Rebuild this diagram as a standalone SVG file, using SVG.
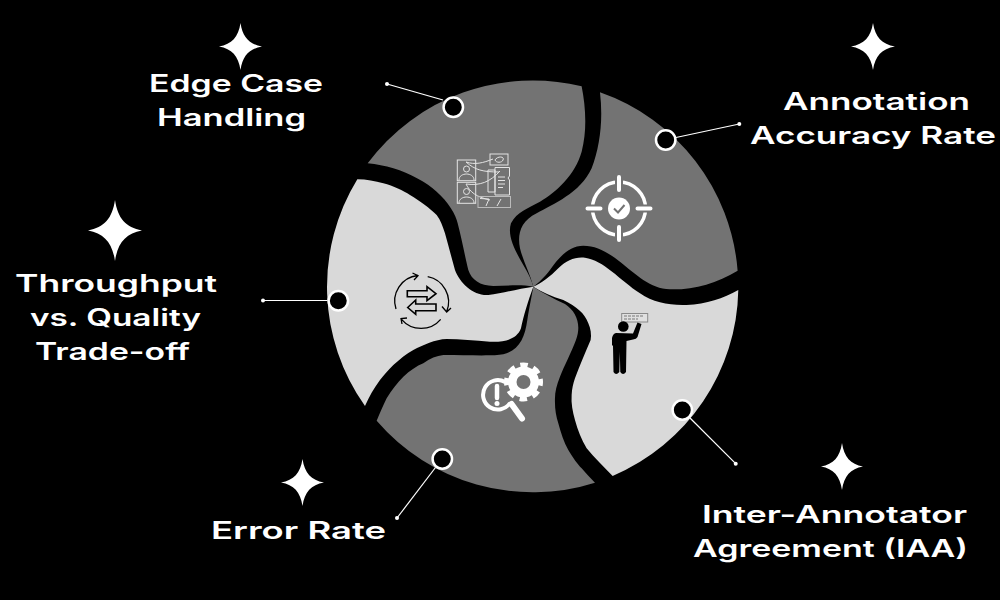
<svg xmlns="http://www.w3.org/2000/svg" width="1000" height="600" viewBox="0 0 1000 600">
<defs>
<path id="star" d="M0,-1 C.1,-.4 .4,-.1 1,0 C.4,.1 .1,.4 0,1 C-.1,.4 -.4,.1 -1,0 C-.4,-.1 -.1,-.4 0,-1Z" fill="#fff"/>
</defs>
<style>
.dark{fill:#737373}
.light{fill:#d9d9d9}
.dot{fill:#000;stroke:#fff;stroke-width:2.5}
.lab{font-family:"Inter","Liberation Sans",sans-serif;font-size:24px;font-weight:600;fill:#fff}
.wl{fill:none;stroke:#e4e4e4;stroke-width:1}
.bl{fill:none;stroke:#000;stroke-width:1.3}
#connectors line{stroke:#fff;stroke-width:1.2}
#connectors circle{fill:#fff}
</style>
<rect width="1000" height="600" fill="#000"/>

<g id="node-edge-case">
<path class="dark" transform="translate(320,80) scale(.3333)" d="M143,250 A617.500,617.500 0 0 1 785,19 C797,80 802,150 785,215 C765,285 710,335 660,365 C625,385 590,395 573,430 C560,470 590,520 610,555 C625,580 635,600 640,620 C600,612 560,618 520,618 C480,617 455,600 445,570 C435,530 425,475 413,430 C408,405 385,365 350,335 C320,308 270,280 220,265 C195,258 170,253 143,250Z"/>
<g class="wl">
<rect x="457.300" y="160" width="18.400" height="20.700"/>
<rect x="457.300" y="182.300" width="18.400" height="21"/>
<circle cx="466.500" cy="169" r="3"/>
<circle cx="466.500" cy="191.500" r="3"/>
<path d="M459,180 C459,172 474,172 474,180 M459,203 C459,195 474,195 474,203"/>
<rect x="490" y="154" width="18" height="11"/>
<path d="M495,160 C497,156 505,156 503,160 C502,163 496,163 495,160"/>
<path d="M466,162 C475,165 483,163 493,159 M466,162 C475,170 483,172 499,172 M466,184 C480,186 490,182 500,171 M466,184 C470,192 476,197 490,200"/>
<path d="M495,167.500 H509.500 V176 L508,178 L509.500,180 V195 H495 Z"/>
<path d="M488,170 H495 V192 H488 Z M498,177 H505 M498,180.500 H505 M498,184 H505 M498,187.500 H503"/>
<rect x="478" y="196.500" width="32.500" height="11" stroke="#bbb"/>
<path d="M480,198.500 L489,199 L486,206 M497,206 L501,199"/>
</g>
<circle class="dot" cx="453.300" cy="107.300" r="9.700"/>
<text class="lab" x="149" y="92" textLength="174" lengthAdjust="spacingAndGlyphs">Edge Case</text>
<text class="lab" x="157" y="126" textLength="149" lengthAdjust="spacingAndGlyphs">Handling</text>
<use href="#star" transform="translate(240.500,46.500) scale(21.500,23.500)"/>
</g>

<g id="node-accuracy">
<path class="dark" transform="translate(320,80) scale(.3333)" d="M840,37 A617.500,617.500 0 0 1 1253,572 C1190,610 1120,630 1050,628 C990,625 950,585 900,545 C860,515 830,497 790,497 C745,497 715,535 690,570 C675,590 655,610 640,620 C630,580 610,545 600,505 C592,465 600,425 650,400 C700,372 780,340 815,265 C840,200 850,120 840,37Z"/>
<circle cx="619" cy="208.500" r="26.500" fill="none" stroke="#fff" stroke-width="3.500"/>
<path d="M619,176.500 V191 M619,226 V240.500 M587,208.500 H601.500 M636.500,208.500 H651" stroke="#737373" stroke-width="8" fill="none"/>
<path d="M619,177 V190 M619,227 V240 M587.500,208.500 H600.500 M637.500,208.500 H650.500" stroke="#fff" stroke-width="4" stroke-linecap="round" fill="none"/>
<circle cx="619" cy="208.500" r="11" fill="#fff"/>
<path d="M614,208.500 L618,212.500 L624.500,205" fill="none" stroke="#737373" stroke-width="2"/>
<circle class="dot" cx="665.700" cy="140" r="9.700"/>
<text class="lab" x="783" y="110" textLength="187" lengthAdjust="spacingAndGlyphs">Annotation</text>
<text class="lab" x="750" y="144" textLength="246" lengthAdjust="spacingAndGlyphs">Accuracy Rate</text>
<use href="#star" transform="translate(873,46.500) scale(22,23.500)"/>
</g>

<g id="node-iaa">
<path class="light" transform="translate(320,80) scale(.3333)" d="M1255,630 A617.500,617.500 0 0 1 878,1188 C850,1160 825,1135 800,1105 C785,1080 773,1050 765,1020 C758,995 753,970 755,945 C756,925 760,910 765,895 C780,855 797,815 812,780 C815,765 812,745 805,730 C795,700 770,680 730,660 C695,650 665,635 640,620 C665,610 690,590 715,565 C740,540 765,530 795,533 C850,540 900,600 960,640 C1000,668 1050,677 1100,675 C1160,672 1210,655 1255,630Z"/>
<rect x="621.700" y="313.500" width="26" height="8.500" fill="#e0e0e0" stroke="#8a8a8a"/>
<path d="M624,316 H644 M624,319 H638" stroke="#777" stroke-width="1" stroke-dasharray="3 1"/>
<circle cx="623.300" cy="326.500" r="5.300"/>
<path d="M616,333 L633,333.500 L637.500,322.500 L641.500,324 L637.500,337 Q636.500,339 633,339.500 L626.500,341 L626,372 Q623,376 620.300,372 L619.800,352 L619.300,372 Q616,376 613.500,372 L613,346 L612,345 L612,338 Q613,333.500 616,333Z"/>
<circle class="dot" cx="682.300" cy="410" r="9.700"/>
<text class="lab" x="702" y="523" textLength="265" lengthAdjust="spacingAndGlyphs">Inter-Annotator</text>
<text class="lab" x="693" y="557" textLength="275" lengthAdjust="spacingAndGlyphs">Agreement (IAA)</text>
<use href="#star" transform="translate(842,466.500) scale(21,23.500)"/>
</g>

<g id="node-error">
<path class="dark" transform="translate(320,80) scale(.3333)" d="M825,1208 A617.500,617.500 0 0 1 170,1022 C180,998 190,975 200,955 C215,930 232,908 250,890 C270,872 290,858 310,850 C330,835 350,827 370,825 C420,825 470,827 510,826 C530,826 548,825 560,820 C600,805 615,770 622,720 C628,680 635,650 640,620 C670,640 700,655 735,672 C770,695 785,735 768,780 C755,815 732,860 720,890 C710,915 705,935 705,955 C704,985 708,1008 715,1030 C723,1060 732,1088 745,1110 C760,1135 772,1152 785,1165 C798,1180 812,1195 825,1208Z"/>
<path d="M505,382 A14.700,14.700 0 1 0 510,403" fill="none" stroke="#fff" stroke-width="4"/>
<path d="M511.500,404 L522,418.500" stroke="#fff" stroke-width="6" stroke-linecap="round"/>
<path d="M497,386 V398" stroke="#fff" stroke-width="4.500" stroke-linecap="round"/>
<circle cx="497" cy="403.500" r="2.500" fill="#fff"/>
<circle cx="523.500" cy="382" r="15.500" fill="#fff"/>
<circle cx="523.500" cy="382" r="17" fill="none" stroke="#fff" stroke-width="5" stroke-dasharray="7.500 5.852" stroke-dashoffset="3.750"/>
<circle cx="523.500" cy="382" r="7" fill="#737373"/>
<circle class="dot" cx="442.300" cy="459" r="9.700"/>
<text class="lab" x="211" y="539" textLength="175" lengthAdjust="spacingAndGlyphs">Error Rate</text>
<use href="#star" transform="translate(302.500,482.500) scale(21.500,23.500)"/>
</g>

<g id="node-throughput">
<path class="light" transform="translate(320,80) scale(.3333)" d="M135,978 A617.500,617.500 0 0 1 112,298 C140,298 165,303 190,310 C220,318 250,332 270,345 C300,363 330,385 350,405 C362,420 368,440 375,460 C385,495 395,535 405,570 C420,610 460,648 505,645 C550,640 600,625 640,620 C625,660 610,710 603,745 C590,780 550,787 510,785 C465,782 420,777 380,777 C345,778 310,795 280,810 C260,820 240,838 220,855 C205,870 192,885 180,900 C162,925 147,950 135,978Z"/>
<g class="bl">
<path d="M396,309 A25.700,25.700 0 0 1 417.700,275.500 M412.500,273 L418,275.700 L414,280"/>
<path d="M427.700,276.700 A25.700,25.700 0 0 1 446.700,311.500 M442,306.500 L446.700,312 L451,308"/>
<path d="M440.700,319.300 A25.700,25.700 0 0 1 401.500,319.300 M402,324 L401,318.500 L407,318"/>
<path stroke-width="1.600" d="M407.300,290.700 H427 V286.700 L436,293.700 L427,300.700 V296.700 H407.300Z"/>
<path stroke-width="1.600" d="M407.700,307.500 L415.700,300 V304 H436 V310.700 H415.700 V314.300Z"/>
</g>
<circle class="dot" cx="338.300" cy="300.700" r="9.700"/>
<text class="lab" x="15" y="292" textLength="202" lengthAdjust="spacingAndGlyphs">Throughput</text>
<text class="lab" x="30" y="326" textLength="171" lengthAdjust="spacingAndGlyphs">vs. Quality</text>
<text class="lab" x="35" y="360" textLength="155" lengthAdjust="spacingAndGlyphs">Trade-off</text>
<use href="#star" transform="translate(115,230.500) scale(27,30.500)"/>
</g>

<g id="connectors">
<line x1="387" y1="84" x2="443" y2="100"/><circle cx="387" cy="84" r="2"/>
<line x1="676" y1="137.500" x2="739.300" y2="124"/><circle cx="739.300" cy="124" r="2"/>
<line x1="263" y1="300.500" x2="327.500" y2="300.500"/><circle cx="263" cy="300.500" r="2"/>
<line x1="690" y1="418" x2="735.700" y2="463.700"/><circle cx="735.700" cy="463.700" r="2"/>
<line x1="435.500" y1="467.500" x2="397" y2="518"/><circle cx="397" cy="518" r="2"/>
</g>
</svg>
